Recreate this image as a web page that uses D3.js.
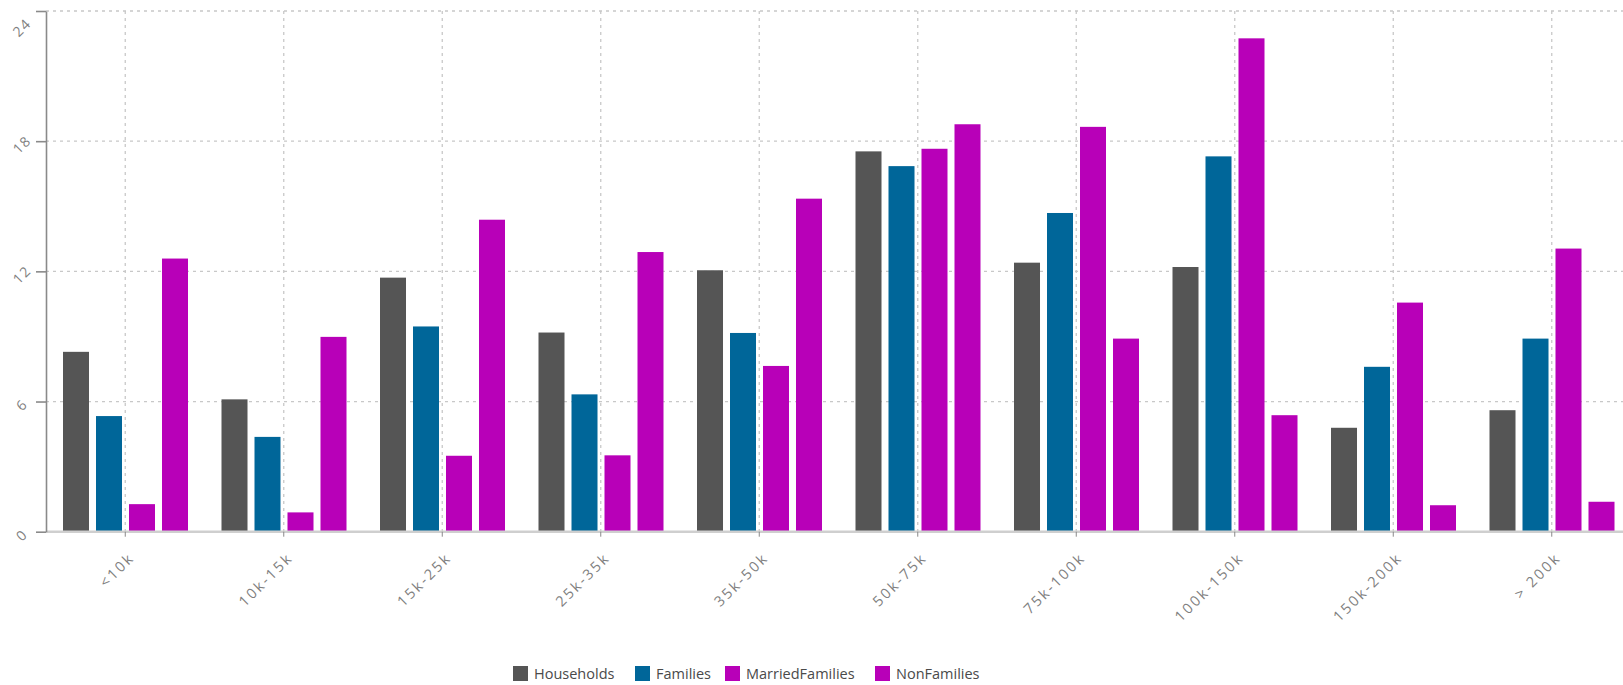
<!DOCTYPE html>
<html><head><meta charset="utf-8">
<script src="https://cdn.jsdelivr.net/npm/d3@7"></script>
<style>
html,body{margin:0;padding:0;background:#fff;overflow:hidden;}
text{font-family:"Open Sans","DejaVu Sans",sans-serif;}
</style></head>
<body><svg id="chart" width="1623" height="685"></svg>
<script>
const categories = ["<10k","10k-15k","15k-25k","25k-35k","35k-50k","50k-75k","75k-100k","100k-150k","150k-200k","> 200k"];
const seriesNames = ["Households","Families","MarriedFamilies","NonFamilies"];
const households      = [8.29, 6.10, 11.71, 9.18, 12.05, 17.53, 12.40, 12.20, 4.79, 5.60];
const families        = [5.33, 4.37, 9.46, 6.33, 9.16, 16.85, 14.69, 17.30, 7.60, 8.90];
const marriedFamilies = [1.27, 0.89, 3.50, 3.52, 7.64, 17.65, 18.66, 22.74, 10.56, 13.05];
const nonFamilies     = [12.59, 8.98, 14.38, 12.89, 15.35, 18.78, 8.90, 5.37, 1.22, 1.38];
const yTicks = [0, 6, 12, 18, 24];
const colors = ["#555555", "#006699", "#b800b8", "#b800b8"];

const seriesValues = [households, families, marriedFamilies, nonFamilies];
const svg = d3.select("#chart");
const plotLeft = 46, plotTop = 11, plotBottom = 531.7;
const x = d3.scaleBand().domain(categories).range([plotLeft, plotLeft + 1585]).padding(0);
const x1 = d3.scaleBand().domain(seriesNames).range([17, 142]).paddingInner(0.212).paddingOuter(0);
const y = d3.scaleLinear().domain([0, 24]).range([plotBottom, plotTop]);

// grid
const grid = svg.append("g");
grid.selectAll("line.h").data(yTicks.filter(d => d > 0)).join("line")
  .attr("x1", plotLeft).attr("x2", 1623).attr("y1", d => y(d)).attr("y2", d => y(d))
  .attr("stroke", "#c8c8c8").attr("stroke-width", 1.3).attr("stroke-dasharray", "3,4");
grid.selectAll("line.v").data(categories).join("line")
  .attr("x1", d => x(d) + x.bandwidth() / 2).attr("x2", d => x(d) + x.bandwidth() / 2)
  .attr("y1", plotTop).attr("y2", plotBottom)
  .attr("stroke", "#c8c8c8").attr("stroke-width", 1.3).attr("stroke-dasharray", "3,4");

// bars
const groups = svg.append("g").selectAll("g").data(categories).join("g")
  .attr("transform", d => `translate(${x(d)},0)`);
groups.selectAll("rect").data((c, i) => seriesNames.map((s, j) => ({s, v: seriesValues[j][i], j})))
  .join("rect")
  .attr("x", d => x1(d.s)).attr("width", x1.bandwidth())
  .attr("y", d => y(d.v)).attr("height", d => y(0) - y(d.v))
  .attr("fill", d => colors[d.j]);

// x axis
const xAxis = svg.append("g").attr("transform", `translate(0,${plotBottom})`)
  .call(d3.axisBottom(x).tickSize(5).tickSizeOuter(0));
xAxis.select(".domain").attr("stroke", "#cfcfcf").attr("stroke-width", 2.5)
  .attr("d", `M${plotLeft},0H1623`);
xAxis.selectAll(".tick line").attr("stroke", "#888").attr("stroke-width", 1);
xAxis.selectAll(".tick text")
  .attr("fill", "#808080").attr("font-size", 14.5).attr("letter-spacing", "2.3px")
  .attr("text-anchor", "end")
  .attr("transform", "translate(10,27) rotate(-45)")
  .attr("x", 0).attr("y", 0).attr("dy", 0);

// y axis
const yAxis = svg.append("g").attr("transform", `translate(${plotLeft},0)`)
  .call(d3.axisLeft(y).tickValues(yTicks).tickSize(10).tickSizeOuter(0));
yAxis.select(".domain").attr("stroke", "#8a8a8a").attr("stroke-width", 1.6);
yAxis.selectAll(".tick line").attr("stroke", "#8a8a8a").attr("stroke-width", 1.6);
yAxis.selectAll(".tick text")
  .attr("fill", "#808080").attr("font-size", 14).attr("letter-spacing", "1.5px")
  .attr("text-anchor", "middle")
  .attr("transform", d => `translate(-24,${d === d3.max(yTicks) ? 16 : 3}) rotate(-45)`)
  .attr("x", 0).attr("dy", "0.35em");

// legend
const legendX = [513, 635, 725, 875];
const leg = svg.append("g").selectAll("g").data(seriesNames).join("g")
  .attr("transform", (d, i) => `translate(${legendX[i]},666)`);
leg.append("rect").attr("width", 15).attr("height", 15).attr("fill", (d, i) => colors[i]);
leg.append("text").attr("x", 21).attr("y", 13).attr("font-size", 14.5).attr("fill", "#4a4a4a")
  .text(d => d);
</script></body></html>
